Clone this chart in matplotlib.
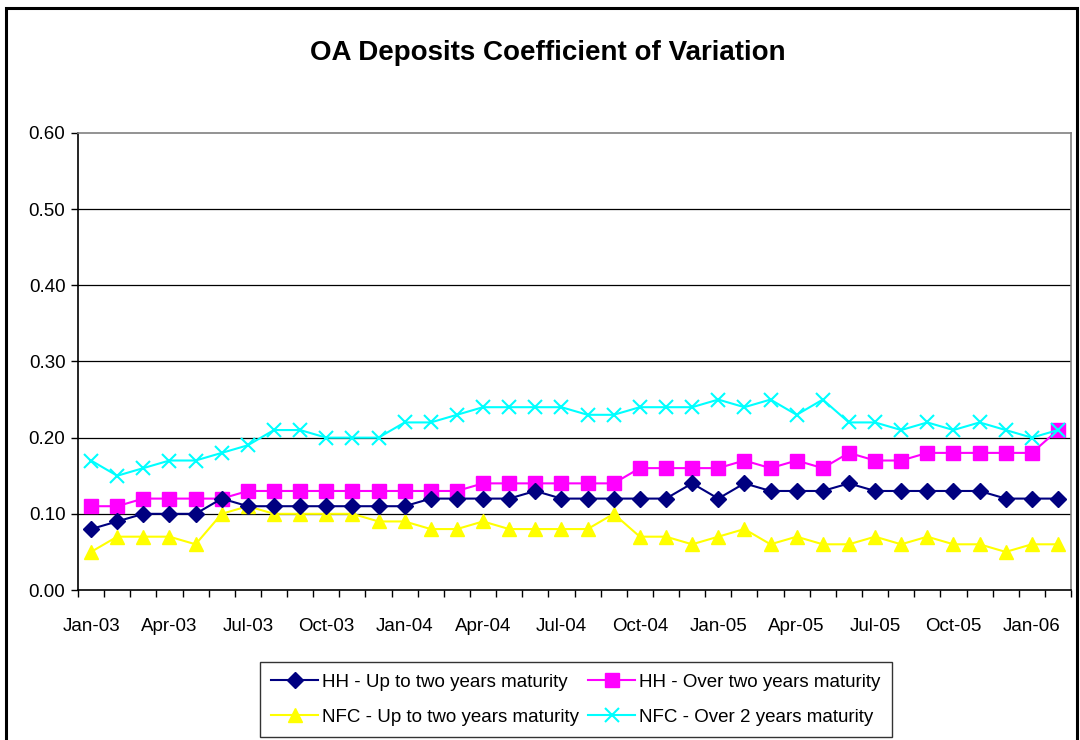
import matplotlib.pyplot as plt
from matplotlib.patches import Rectangle
import numpy as np

# monthly observations, Jan-03 .. Feb-06
months = ["Jan-03", "Feb-03", "Mar-03", "Apr-03", "May-03", "Jun-03", "Jul-03", "Aug-03",
          "Sep-03", "Oct-03", "Nov-03", "Dec-03", "Jan-04", "Feb-04", "Mar-04", "Apr-04",
          "May-04", "Jun-04", "Jul-04", "Aug-04", "Sep-04", "Oct-04", "Nov-04", "Dec-04",
          "Jan-05", "Feb-05", "Mar-05", "Apr-05", "May-05", "Jun-05", "Jul-05", "Aug-05",
          "Sep-05", "Oct-05", "Nov-05", "Dec-05", "Jan-06", "Feb-06"]

hh_up_to_two = [0.08, 0.09, 0.10, 0.10, 0.10, 0.12, 0.11, 0.11, 0.11, 0.11, 0.11, 0.11,
                0.11, 0.12, 0.12, 0.12, 0.12, 0.13, 0.12, 0.12, 0.12, 0.12, 0.12, 0.14,
                0.12, 0.14, 0.13, 0.13, 0.13, 0.14, 0.13, 0.13, 0.13, 0.13, 0.13, 0.12,
                0.12, 0.12]
hh_over_two = [0.11, 0.11, 0.12, 0.12, 0.12, 0.12, 0.13, 0.13, 0.13, 0.13, 0.13, 0.13,
               0.13, 0.13, 0.13, 0.14, 0.14, 0.14, 0.14, 0.14, 0.14, 0.16, 0.16, 0.16,
               0.16, 0.17, 0.16, 0.17, 0.16, 0.18, 0.17, 0.17, 0.18, 0.18, 0.18, 0.18,
               0.18, 0.21]
nfc_up_to_two = [0.05, 0.07, 0.07, 0.07, 0.06, 0.10, 0.11, 0.10, 0.10, 0.10, 0.10, 0.09,
                 0.09, 0.08, 0.08, 0.09, 0.08, 0.08, 0.08, 0.08, 0.10, 0.07, 0.07, 0.06,
                 0.07, 0.08, 0.06, 0.07, 0.06, 0.06, 0.07, 0.06, 0.07, 0.06, 0.06, 0.05,
                 0.06, 0.06]
nfc_over_two = [0.17, 0.15, 0.16, 0.17, 0.17, 0.18, 0.19, 0.21, 0.21, 0.20, 0.20, 0.20,
                0.22, 0.22, 0.23, 0.24, 0.24, 0.24, 0.24, 0.23, 0.23, 0.24, 0.24, 0.24,
                0.25, 0.24, 0.25, 0.23, 0.25, 0.22, 0.22, 0.21, 0.22, 0.21, 0.22, 0.21,
                0.20, 0.21]

series_labels = ["HH - Up to two years maturity", "HH - Over two years maturity",
                 "NFC - Up to two years maturity", "NFC - Over 2 years maturity"]
y_ticks = [0.0, 0.1, 0.2, 0.3, 0.4, 0.5, 0.6]

plt.rcParams['font.family'] = ['Liberation Sans', 'DejaVu Sans']

fig = plt.figure(figsize=(10.8, 7.4), dpi=100)
ax = fig.add_axes([0.0722, 0.2027, 0.9195, 0.6176])

x = np.arange(len(months))
lw = 1.5
l1, = ax.plot(x, hh_up_to_two, color="#000080", lw=lw, marker="D", ms=8.5,
              markeredgecolor="#000080", zorder=4)
l2, = ax.plot(x, hh_over_two, color="#FF00FF", lw=lw, marker="s", ms=9.5,
              markeredgecolor="#FF00FF", zorder=3)
l3, = ax.plot(x, nfc_up_to_two, color="#FFFF00", lw=lw, marker="^", ms=10.5,
              markeredgecolor="#FFFF00", zorder=2)
l4, = ax.plot(x, nfc_over_two, color="#00FFFF", lw=lw, marker="x", ms=10, mew=1.5, zorder=5)

ax.set_xlim(-0.5, len(months) - 0.5)
ax.set_ylim(0, 0.6)

# y axis
ax.set_yticks(y_ticks)
ax.set_yticklabels(["%.2f" % v for v in y_ticks], fontsize=13.5)
ax.tick_params(axis="y", direction="out", length=5, width=1, pad=4)
for v in y_ticks[1:-1]:
    ax.axhline(v, color="black", lw=0.9, zorder=1)

# x axis: tick marks between months, labels every quarter
ax.set_xticks(np.arange(-0.5, len(months)), minor=True)
ax.set_xticks(x[::3])
ax.set_xticklabels(months[::3], fontsize=13.5)
ax.tick_params(axis="x", which="major", length=0, pad=20)
ax.tick_params(axis="x", which="minor", direction="out", length=5, width=1)

for side in ("left", "bottom"):
    ax.spines[side].set_color("black")
    ax.spines[side].set_linewidth(1.2)
for side in ("top", "right"):
    ax.spines[side].set_color("#808080")
    ax.spines[side].set_linewidth(1.2)

fig.text(0.507, 0.929, "OA Deposits Coefficient of Variation", ha="center", va="center",
         fontsize=20, fontweight="bold")

leg = fig.legend([l1, l3, l2, l4], [series_labels[0], series_labels[2], series_labels[1], series_labels[3]],
                 ncol=2, loc="lower left", bbox_to_anchor=(260 / 1080, 3 / 740),
                 fontsize=13.5, frameon=True, fancybox=False, handlelength=2.5,
                 handletextpad=0.2, columnspacing=0.5, borderpad=0.6, labelspacing=0.95,
                 borderaxespad=0)
leg.get_frame().set_edgecolor("black")
leg.get_frame().set_linewidth(1.0)

# outer chart border
fig.patches.append(Rectangle((6 / 1080, -0.05), 1071 / 1080, 1.05 - 8 / 740, transform=fig.transFigure,
                             fill=False, edgecolor="black", lw=2.2))

fig.savefig("out.png", dpi=100)
